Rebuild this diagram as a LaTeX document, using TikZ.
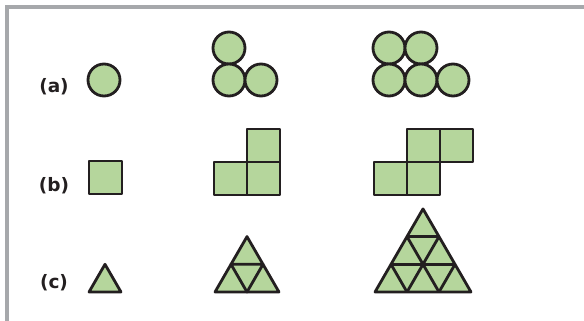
\documentclass[tikz,border=0pt]{standalone}
\usepackage{fontspec}
\setmainfont{DejaVu Sans}
\definecolor{leaf}{RGB}{181,214,156}
\definecolor{ink}{RGB}{35,31,32}
\definecolor{frame}{RGB}{166,168,171}
\begin{document}
\begin{tikzpicture}[x=1pt,y=-1pt,
  piece/.style={draw=ink,fill=leaf,line width=2.8pt,line join=round},
  gridline/.style={draw=ink,line width=2.8pt,line cap=butt,line join=round},
  lab/.style={font=\fontsize{18.5}{18.5}\selectfont\bfseries,text=ink,inner sep=0pt}]
\useasboundingbox (0,0) rectangle (584,321);
% frame
\draw[frame,line width=4pt] (7,321) -- (7,7) -- (584,7);
% labels
\node[lab] (la) at (54,87) {(a)};
\node[lab] (lb) at (54,186) {(b)};
\node[lab] (lc) at (54,283) {(c)};
% (a) circles
\foreach \cx/\cy in {104/80,229/48,229/80,261/80,389/48,421/48,389/80,421/80,453/80}
  \draw[piece] (\cx,\cy) circle (16);
% (b) squares
\foreach \x/\y in {89/161,214/162,247/162,247/129,374/162,407/162,407/129,440/129}
  \draw[piece] (\x,\y) rectangle ++(33,33);
% (c) triangles
\draw[piece] (89,292) -- (121,292) -- (105,264.3) -- cycle;
\draw[piece] (215,292) -- (279,292) -- (247,236.6) -- cycle;
\draw[gridline] (231,264.3) -- (263,264.3) -- (247,292) -- cycle;
\draw[piece] (375,292) -- (471,292) -- (423,208.9) -- cycle;
\draw[gridline] (391,264.3) -- (455,264.3);
\draw[gridline] (407,236.6) -- (439,236.6);
\draw[gridline] (407,292) -- (439,236.6);
\draw[gridline] (439,292) -- (455,264.3);
\draw[gridline] (439,292) -- (407,236.6);
\draw[gridline] (407,292) -- (391,264.3);
\end{tikzpicture}
\end{document}
